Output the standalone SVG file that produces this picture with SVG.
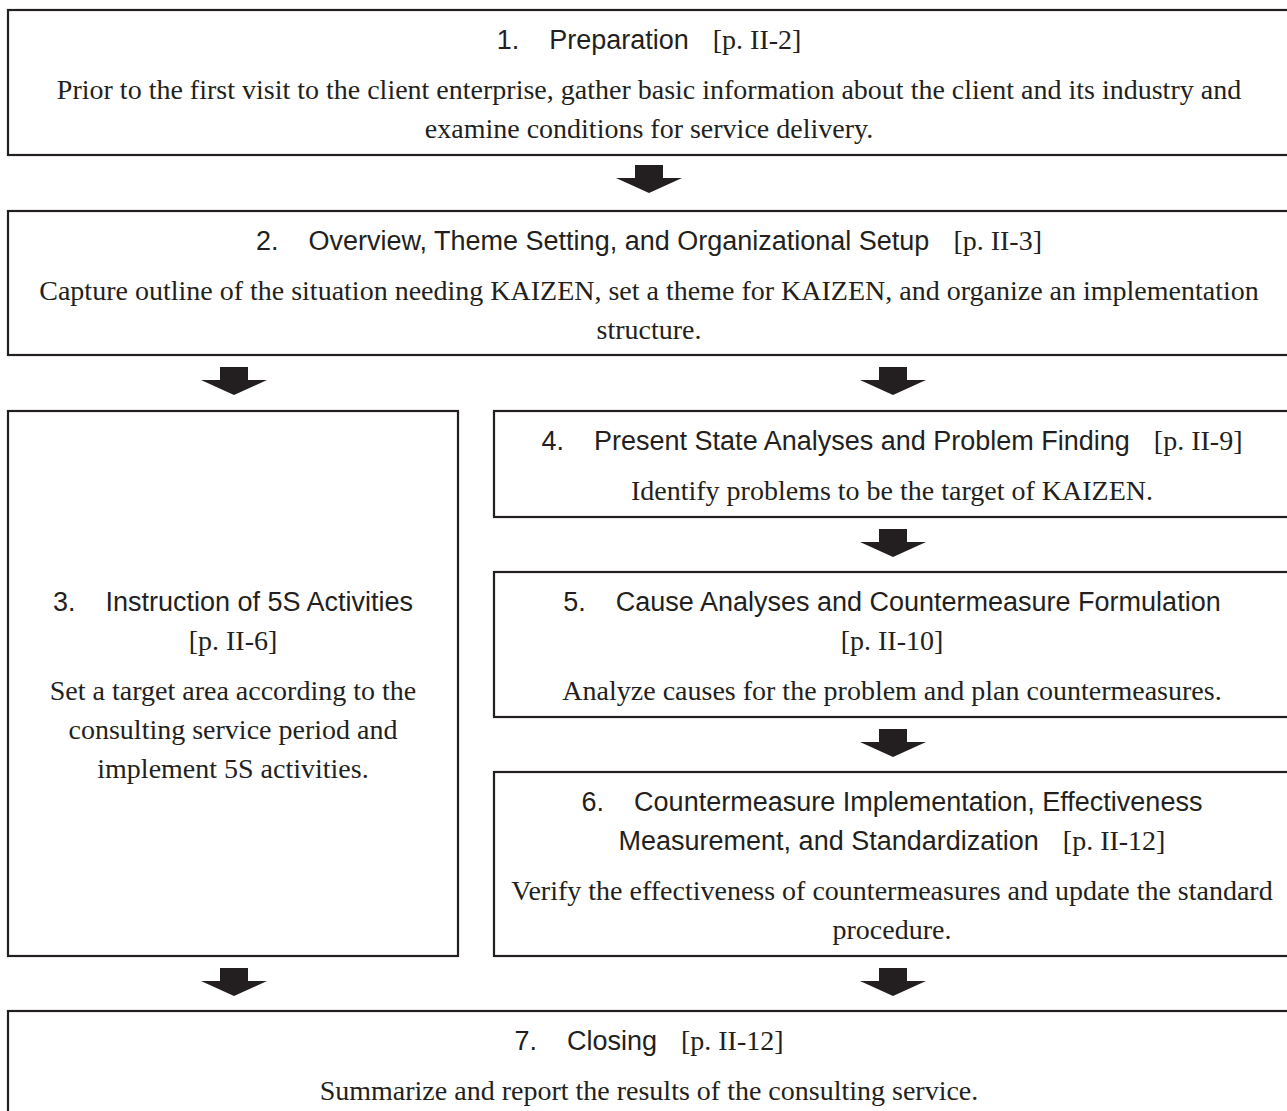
<svg xmlns="http://www.w3.org/2000/svg" width="1287" height="1111" viewBox="0 0 1287 1111">
<style>
.box{fill:none;stroke:#231f20;stroke-width:2.2}
.t{font-family:"Liberation Sans",Arial,sans-serif;font-size:27px;fill:#231f20}
.s{font-family:"Liberation Serif","Times New Roman",serif;font-size:28px;fill:#231f20}
text{text-anchor:middle}
.arr{fill:#231f20}
</style>
<defs>
<polygon id="arr" points="-14,0 14,0 14,13 33,13 0,28 -33,13 -14,13"/>
</defs>
<rect width="1287" height="1111" fill="#ffffff"/>
<g id="node1">
<rect class="box" x="8" y="10" width="1290" height="145"/>
<text x="649" y="49"><tspan class="t">1.</tspan><tspan class="t" dx="30">Preparation</tspan><tspan class="s" dx="24">[p. II-2]</tspan></text>
<text class="s" x="649" y="99">Prior to the first visit to the client enterprise, gather basic information about the client and its industry and</text>
<text class="s" x="649" y="138">examine conditions for service delivery.</text>
</g>
<g id="node2">
<rect class="box" x="8" y="211" width="1290" height="144"/>
<text x="649" y="250"><tspan class="t">2.</tspan><tspan class="t" dx="30">Overview, Theme Setting, and Organizational Setup</tspan><tspan class="s" dx="24">[p. II-3]</tspan></text>
<text class="s" x="649" y="300">Capture outline of the situation needing KAIZEN, set a theme for KAIZEN, and organize an implementation</text>
<text class="s" x="649" y="339">structure.</text>
</g>
<g id="node3">
<rect class="box" x="8" y="411" width="450" height="545"/>
<text x="233" y="611"><tspan class="t">3.</tspan><tspan class="t" dx="30">Instruction of 5S Activities</tspan></text>
<text class="s" x="233" y="650">[p. II-6]</text>
<text class="s" x="233" y="700">Set a target area according to the</text>
<text class="s" x="233" y="739">consulting service period and</text>
<text class="s" x="233" y="778">implement 5S activities.</text>
</g>
<g id="node4">
<rect class="box" x="494" y="411" width="800" height="106"/>
<text x="892" y="450"><tspan class="t">4.</tspan><tspan class="t" dx="30">Present State Analyses and Problem Finding</tspan><tspan class="s" dx="24">[p. II-9]</tspan></text>
<text class="s" x="892" y="500">Identify problems to be the target of KAIZEN.</text>
</g>
<g id="node5">
<rect class="box" x="494" y="572" width="800" height="145"/>
<text x="892" y="611"><tspan class="t">5.</tspan><tspan class="t" dx="30">Cause Analyses and Countermeasure Formulation</tspan></text>
<text class="s" x="892" y="650">[p. II-10]</text>
<text class="s" x="892" y="700">Analyze causes for the problem and plan countermeasures.</text>
</g>
<g id="node6">
<rect class="box" x="494" y="772" width="800" height="184"/>
<text x="892" y="811"><tspan class="t">6.</tspan><tspan class="t" dx="30">Countermeasure Implementation, Effectiveness</tspan></text>
<text x="892" y="850"><tspan class="t">Measurement, and Standardization</tspan><tspan class="s" dx="24">[p. II-12]</tspan></text>
<text class="s" x="892" y="900">Verify the effectiveness of countermeasures and update the standard</text>
<text class="s" x="892" y="939">procedure.</text>
</g>
<g id="node7">
<rect class="box" x="8" y="1011" width="1290" height="200"/>
<text x="649" y="1050"><tspan class="t">7.</tspan><tspan class="t" dx="30">Closing</tspan><tspan class="s" dx="24">[p. II-12]</tspan></text>
<text class="s" x="649" y="1100">Summarize and report the results of the consulting service.</text>
</g>
<g id="connectors" class="arr">
<use href="#arr" x="649" y="165"/>
<use href="#arr" x="234" y="367"/>
<use href="#arr" x="893" y="367"/>
<use href="#arr" x="893" y="529"/>
<use href="#arr" x="893" y="729"/>
<use href="#arr" x="234" y="968"/>
<use href="#arr" x="893" y="968"/>
</g>
</svg>
